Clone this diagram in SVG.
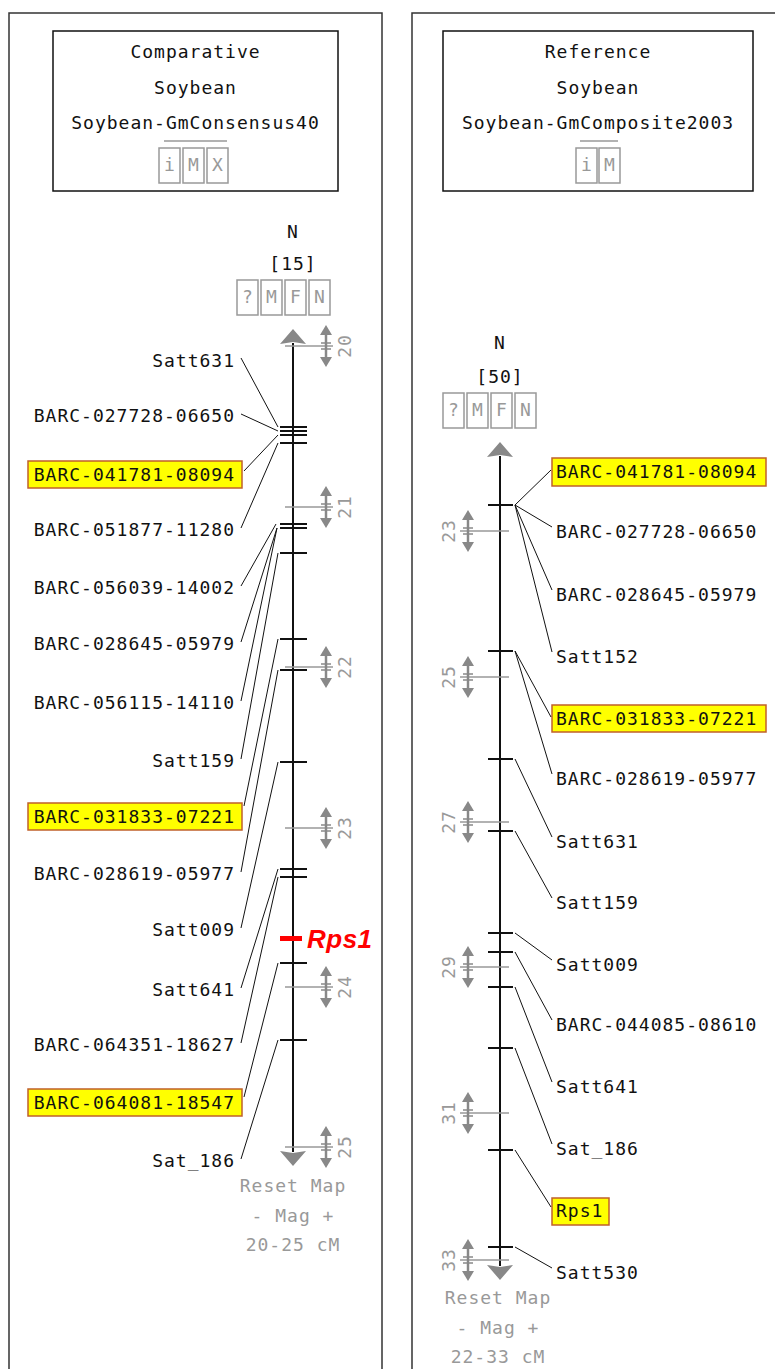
<svg xmlns="http://www.w3.org/2000/svg" xmlns:xlink="http://www.w3.org/1999/xlink" width="775" height="1369" viewBox="0 0 775 1369">
<style>
text{font-family:"DejaVu Sans Mono","Liberation Mono",monospace;font-size:18px;letter-spacing:1px;fill:#111}
.g{fill:#999}
.c{text-anchor:middle}
.e{text-anchor:end}
.panel{fill:#fff;stroke:#333;stroke-width:1.5}
.box{fill:#fff;stroke:#111;stroke-width:1.5}
.btn{fill:#fff;stroke:#999;stroke-width:1.5}
.hl{fill:#ffff00;stroke:#c0602a;stroke-width:1.5}
.axis{stroke:#111;stroke-width:2}
.tick{stroke:#111;stroke-width:2}
.conn{stroke:#111;stroke-width:1;fill:none}
.sc{stroke:#999;stroke-width:1.5}
.arr{fill:#888}
.rot{text-anchor:middle;dominant-baseline:central}
</style>
<defs>
<g id="zm">
<polygon class="arr" points="0,-21 -6,-11 6,-11"/>
<line x1="0" y1="-11" x2="0" y2="11" stroke="#888" stroke-width="2.5"/>
<line x1="-5" y1="-3" x2="5" y2="-3" stroke="#888" stroke-width="1.5"/>
<line x1="-5" y1="3" x2="5" y2="3" stroke="#888" stroke-width="1.5"/>
<polygon class="arr" points="0,21 -6,11 6,11"/>
</g>
<polygon id="up" class="arr" points="0,0 13,15 0,13 -13,15"/>
<polygon id="dn" class="arr" points="0,0 13,-15 0,-13 -13,-15"/>
</defs>

<g id="panel-left">
<rect class="panel" x="9" y="13" width="373" height="1370"/>
<rect class="box" x="53" y="31" width="285" height="160"/>
<text class="c" x="195.5" y="58">Comparative</text>
<text class="c" x="195.5" y="94">Soybean</text>
<text class="c" x="195.5" y="129">Soybean-GmConsensus40</text>
<line x1="164" y1="141" x2="227" y2="141" stroke="#999" stroke-width="1.5"/>
<rect class="btn" x="159" y="148" width="21" height="35"/><text class="c g" x="170" y="171">i</text>
<rect class="btn" x="183" y="148" width="21" height="35"/><text class="c g" x="194" y="171">M</text>
<rect class="btn" x="207" y="148" width="21" height="35"/><text class="c g" x="218" y="171">X</text>
</g>

<g id="panel-right">
<rect class="panel" x="412" y="13" width="400" height="1370"/>
<rect class="box" x="443" y="31" width="310" height="160"/>
<text class="c" x="598" y="58">Reference</text>
<text class="c" x="598" y="94">Soybean</text>
<text class="c" x="598" y="129">Soybean-GmComposite2003</text>
<line x1="580" y1="141" x2="618" y2="141" stroke="#999" stroke-width="1.5"/>
<rect class="btn" x="576" y="148" width="21" height="35"/><text class="c g" x="587" y="171">i</text>
<rect class="btn" x="599" y="148" width="21" height="35"/><text class="c g" x="610" y="171">M</text>
</g>

<g id="map-left">
<text class="c" x="293" y="238">N</text>
<text class="c" x="293" y="270">[15]</text>
<rect class="btn" x="237" y="280" width="21" height="35"/><text class="c g" x="248" y="303">?</text>
<rect class="btn" x="261" y="280" width="21" height="35"/><text class="c g" x="272" y="303">M</text>
<rect class="btn" x="285" y="280" width="21" height="35"/><text class="c g" x="296" y="303">F</text>
<rect class="btn" x="309" y="280" width="21" height="35"/><text class="c g" x="320" y="303">N</text>
<use xlink:href="#up" x="293" y="329"/>
<line class="axis" x1="293" y1="343" x2="293" y2="1152"/>
<use xlink:href="#dn" x="293" y="1166"/>
<g id="scale-left">
<line class="sc" x1="285" y1="346" x2="333" y2="346"/><use xlink:href="#zm" x="326" y="346"/><text class="g rot" transform="translate(344 346) rotate(-90)">20</text>
<line class="sc" x1="285" y1="507" x2="333" y2="507"/><use xlink:href="#zm" x="326" y="507"/><text class="g rot" transform="translate(344 507) rotate(-90)">21</text>
<line class="sc" x1="285" y1="667" x2="333" y2="667"/><use xlink:href="#zm" x="326" y="667"/><text class="g rot" transform="translate(344 667) rotate(-90)">22</text>
<line class="sc" x1="285" y1="828" x2="333" y2="828"/><use xlink:href="#zm" x="326" y="828"/><text class="g rot" transform="translate(344 828) rotate(-90)">23</text>
<line class="sc" x1="285" y1="987" x2="333" y2="987"/><use xlink:href="#zm" x="326" y="987"/><text class="g rot" transform="translate(344 987) rotate(-90)">24</text>
<line class="sc" x1="285" y1="1147" x2="333" y2="1147"/><use xlink:href="#zm" x="326" y="1147"/><text class="g rot" transform="translate(344 1147) rotate(-90)">25</text>
</g>
<g id="ticks-left">
<line class="tick" x1="280" y1="427" x2="307" y2="427"/>
<line class="tick" x1="280" y1="431" x2="307" y2="431"/>
<line class="tick" x1="280" y1="435" x2="307" y2="435"/>
<line class="tick" x1="280" y1="443" x2="307" y2="443"/>
<line class="tick" x1="280" y1="524" x2="307" y2="524"/>
<line class="tick" x1="280" y1="528" x2="307" y2="528"/>
<line class="tick" x1="280" y1="553" x2="307" y2="553"/>
<line class="tick" x1="280" y1="639" x2="307" y2="639"/>
<line class="tick" x1="280" y1="670" x2="307" y2="670"/>
<line class="tick" x1="280" y1="762" x2="307" y2="762"/>
<line class="tick" x1="280" y1="869" x2="307" y2="869"/>
<line class="tick" x1="280" y1="877" x2="307" y2="877"/>
<line class="tick" x1="280" y1="963" x2="307" y2="963"/>
<line class="tick" x1="280" y1="1040" x2="307" y2="1040"/>
</g>
<g id="rps1-left">
<rect x="280" y="936" width="22" height="5" fill="#ff0000"/>
<text x="307" y="948" style="font-family:'Liberation Sans',Arial,sans-serif;font-size:26px;font-weight:bold;font-style:italic;letter-spacing:0.5px;fill:#ff0000">Rps1</text>
</g>
<text class="c g" x="293" y="1192">Reset Map</text>
<text class="c g" x="293" y="1222">- Mag +</text>
<text class="c g" x="293" y="1251">20-25 cM</text>
</g>

<g id="labels-left">
<text class="e" x="235" y="367">Satt631</text>
<text class="e" x="235" y="422">BARC-027728-06650</text>
<rect class="hl" x="28" y="461" width="214" height="27"/><text class="e" x="235" y="481">BARC-041781-08094</text>
<text class="e" x="235" y="536">BARC-051877-11280</text>
<text class="e" x="235" y="594">BARC-056039-14002</text>
<text class="e" x="235" y="650">BARC-028645-05979</text>
<text class="e" x="235" y="709">BARC-056115-14110</text>
<text class="e" x="235" y="767">Satt159</text>
<rect class="hl" x="28" y="803" width="214" height="27"/><text class="e" x="235" y="823">BARC-031833-07221</text>
<text class="e" x="235" y="880">BARC-028619-05977</text>
<text class="e" x="235" y="936">Satt009</text>
<text class="e" x="235" y="996">Satt641</text>
<text class="e" x="235" y="1051">BARC-064351-18627</text>
<rect class="hl" x="28" y="1089" width="214" height="27"/><text class="e" x="235" y="1109">BARC-064081-18547</text>
<text class="e" x="235" y="1167">Sat_186</text>
</g>

<g id="map-right">
<text class="c" x="500" y="349">N</text>
<text class="c" x="500" y="383">[50]</text>
<rect class="btn" x="443" y="393" width="21" height="35"/><text class="c g" x="454" y="416">?</text>
<rect class="btn" x="467" y="393" width="21" height="35"/><text class="c g" x="478" y="416">M</text>
<rect class="btn" x="491" y="393" width="21" height="35"/><text class="c g" x="502" y="416">F</text>
<rect class="btn" x="515" y="393" width="21" height="35"/><text class="c g" x="526" y="416">N</text>
<use xlink:href="#up" x="500" y="442"/>
<line class="axis" x1="500" y1="456" x2="500" y2="1266"/>
<use xlink:href="#dn" x="500" y="1280"/>
<g id="scale-right">
<line class="sc" x1="460" y1="531" x2="509" y2="531"/><use xlink:href="#zm" x="468" y="531"/><text class="g rot" transform="translate(448 531) rotate(-90)">23</text>
<line class="sc" x1="460" y1="677" x2="509" y2="677"/><use xlink:href="#zm" x="468" y="677"/><text class="g rot" transform="translate(448 677) rotate(-90)">25</text>
<line class="sc" x1="460" y1="822" x2="509" y2="822"/><use xlink:href="#zm" x="468" y="822"/><text class="g rot" transform="translate(448 822) rotate(-90)">27</text>
<line class="sc" x1="460" y1="967" x2="509" y2="967"/><use xlink:href="#zm" x="468" y="967"/><text class="g rot" transform="translate(448 967) rotate(-90)">29</text>
<line class="sc" x1="460" y1="1113" x2="509" y2="1113"/><use xlink:href="#zm" x="468" y="1113"/><text class="g rot" transform="translate(448 1113) rotate(-90)">31</text>
<line class="sc" x1="460" y1="1260" x2="509" y2="1260"/><use xlink:href="#zm" x="468" y="1260"/><text class="g rot" transform="translate(448 1260) rotate(-90)">33</text>
</g>
<g id="ticks-right">
<line class="tick" x1="488" y1="505" x2="513" y2="505" stroke-width="4"/>
<line class="tick" x1="488" y1="651" x2="513" y2="651"/>
<line class="tick" x1="488" y1="759" x2="513" y2="759"/>
<line class="tick" x1="488" y1="831" x2="513" y2="831"/>
<line class="tick" x1="488" y1="933" x2="513" y2="933"/>
<line class="tick" x1="488" y1="952" x2="513" y2="952"/>
<line class="tick" x1="488" y1="987" x2="513" y2="987"/>
<line class="tick" x1="488" y1="1048" x2="513" y2="1048"/>
<line class="tick" x1="488" y1="1150" x2="513" y2="1150"/>
<line class="tick" x1="488" y1="1247" x2="513" y2="1247"/>
</g>
<text class="c g" x="498" y="1304">Reset Map</text>
<text class="c g" x="498" y="1334">- Mag +</text>
<text class="c g" x="498" y="1363">22-33 cM</text>
</g>

<g id="labels-right">
<rect class="hl" x="552" y="458" width="214" height="28"/><text x="556" y="478">BARC-041781-08094</text>
<text x="556" y="538">BARC-027728-06650</text>
<text x="556" y="601">BARC-028645-05979</text>
<text x="556" y="663">Satt152</text>
<rect class="hl" x="552" y="705" width="214" height="27"/><text x="556" y="725">BARC-031833-07221</text>
<text x="556" y="785">BARC-028619-05977</text>
<text x="556" y="848">Satt631</text>
<text x="556" y="909">Satt159</text>
<text x="556" y="971">Satt009</text>
<text x="556" y="1031">BARC-044085-08610</text>
<text x="556" y="1093">Satt641</text>
<text x="556" y="1155">Sat_186</text>
<rect class="hl" x="552" y="1198" width="57" height="27"/><text x="556" y="1217">Rps1</text>
<text x="556" y="1279">Satt530</text>
</g>

<g id="connectors">
<path class="conn" d="M241 358L278 427M241 414L278 431M244 471L278 435M241 528L278 443M241 586L276 524M241 642L277 528M241 701L277 528M241 759L278 553M244 806L278 639M241 872L278 670M241 928L278 762M241 988L278 869M241 1043L278 877M244 1097L278 963M241 1159L278 1040"/>
<path class="conn" d="M515 505L551 470M515 505L552 527M515 505L552 590M515 505L552 652M515 651L551 717M515 651L552 774M515 759L552 837M515 831L552 898M515 933L552 960M515 952L552 1020M515 987L552 1082M515 1048L552 1144M515 1150L551 1207M515 1247L552 1268"/>
</g>
</svg>
